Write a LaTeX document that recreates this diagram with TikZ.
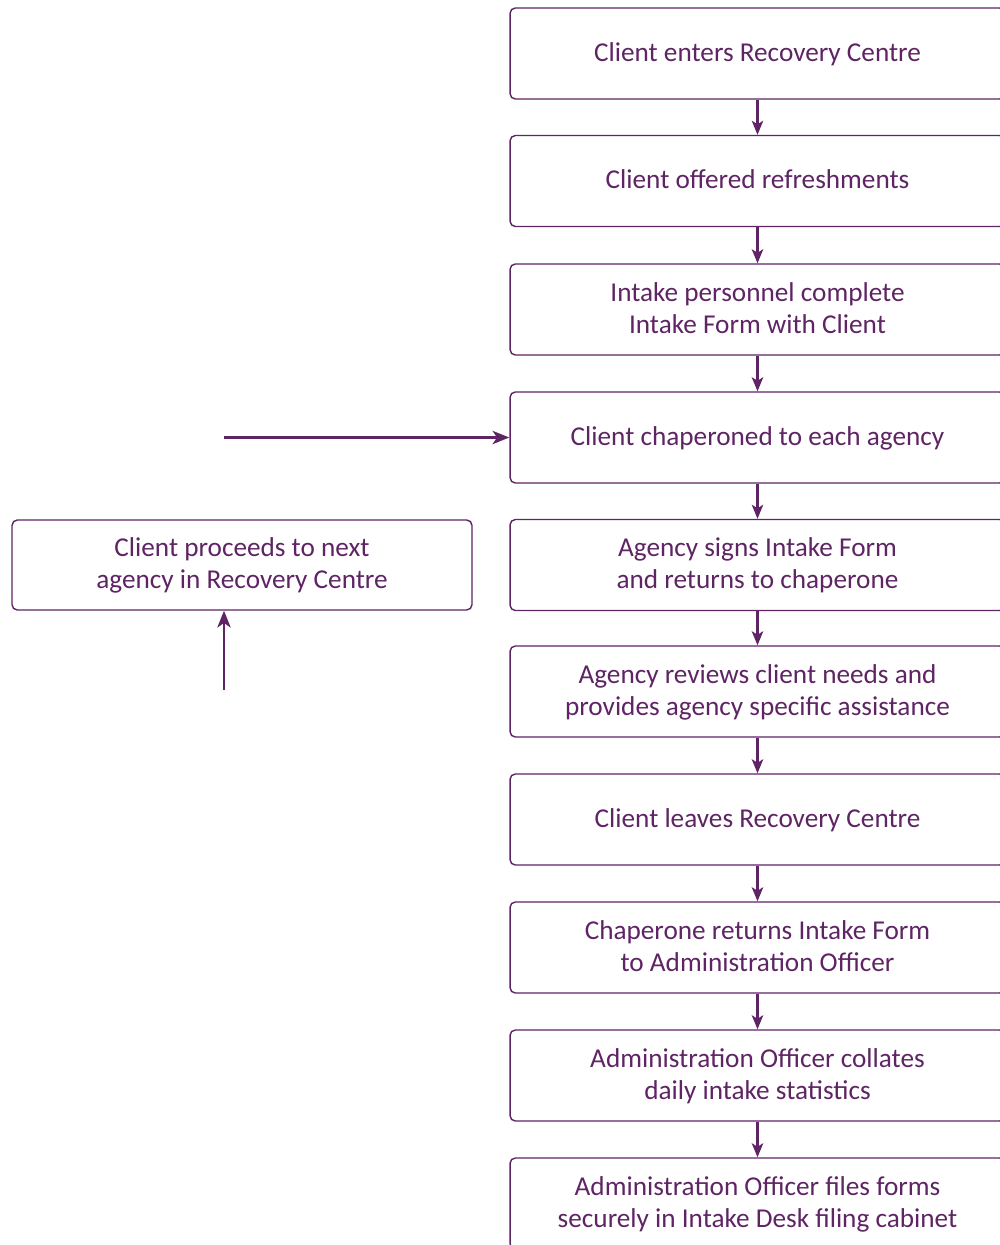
\documentclass[tikz,border=0pt]{standalone}
\usepackage{fontspec}
\setmainfont{Carlito}
\usepackage{tikz}
\usetikzlibrary{arrows.meta,positioning}
\definecolor{plum}{RGB}{94,36,100}

\begin{document}
\begin{tikzpicture}
	[
		x=0.02cm, y=-0.02cm,
		B/.style = {rectangle, rounded corners=3pt, align=center, draw=plum, line width=0.8pt, fill=none,
			text=plum, font=\fontsize{15.5}{18.2}\selectfont, minimum width=9.9cm, minimum height=1.82cm,
			inner sep=0pt, text depth=0.4ex},
		L/.style = {B, minimum width=9.2cm, minimum height=1.8cm},
		A/.style = {draw=plum, line width=1.2pt, -{Stealth[length=8pt,width=6.5pt,inset=2pt]}},
		AA/.style = {draw=plum, line width=1.7pt, -{Stealth[length=9.5pt,width=7.5pt,inset=2.5pt]}},
	]
	\clip (0,0) rectangle (1000,1245);

	% steps down the right side
	\node[B] (s1)  at (757.5,  53.5) {Client enters Recovery Centre};
	\node[B] (s2)  at (757.5, 181.0) {Client offered refreshments};
	\node[B] (s3)  at (757.5, 309.5) {Intake personnel complete\\Intake Form with Client};
	\node[B] (s4)  at (757.5, 437.5) {Client chaperoned to each agency};
	\node[B] (s5)  at (757.5, 565.0) {Agency signs Intake Form\\and returns to chaperone};
	\node[B] (s6)  at (757.5, 691.5) {Agency reviews client needs and\\provides agency specific assistance};
	\node[B] (s7)  at (757.5, 819.5) {Client leaves Recovery Centre};
	\node[B] (s8)  at (757.5, 947.5) {Chaperone returns Intake Form\\to Administration Officer};
	\node[B] (s9)  at (757.5,1075.5) {Administration Officer collates\\daily intake statistics};
	\node[B] (s10) at (757.5,1203.5) {Administration Officer files forms\\securely in Intake Desk filing cabinet};

	% loop back on the left
	\node[L] (nx)  at (242.0, 565.0) {Client proceeds to next\\agency in Recovery Centre};
	\coordinate (back) at (224, 437.5);
	\coordinate (up)   at (224, 690.0);

	\foreach \from/\to in {s1/s2,s2/s3,s3/s4,s4/s5,s5/s6,s6/s7,s7/s8,s8/s9,s9/s10}
	\draw[A] (\from) -- (\to);

	\draw[AA] (back) -- (s4.west);
	\draw[AA] (up) -- (up |- nx.south);

\end{tikzpicture}
\end{document}
